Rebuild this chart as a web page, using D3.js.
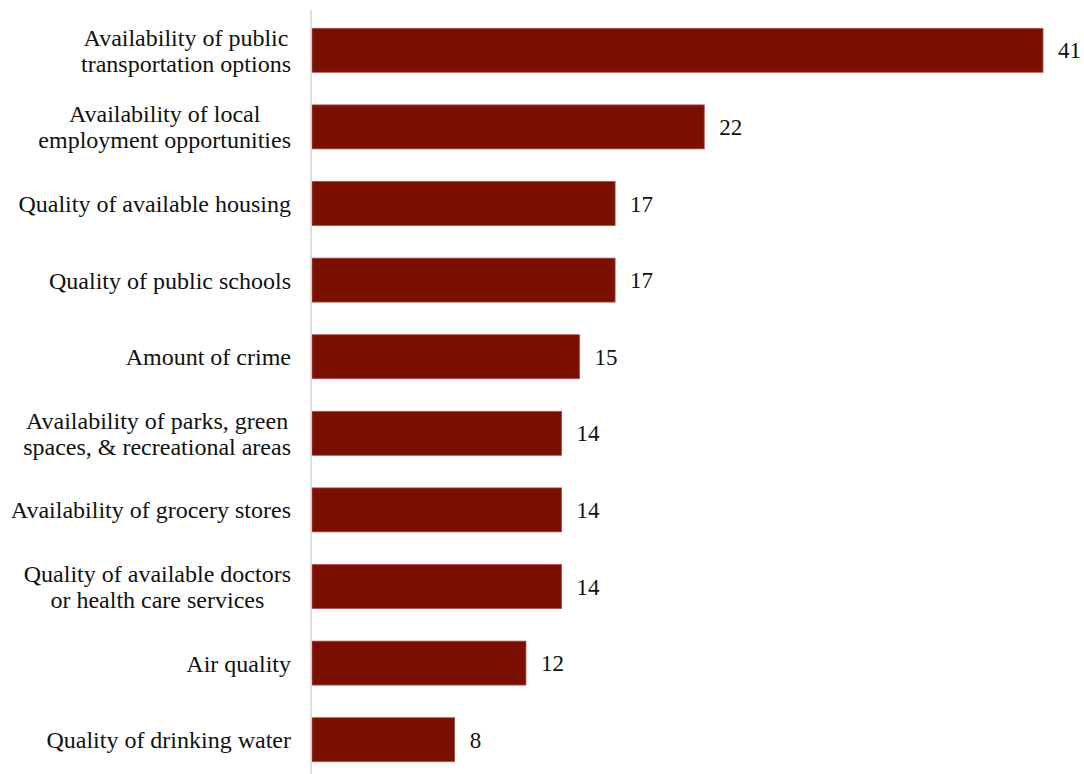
<!DOCTYPE html>
<html lang="en">
<head>
    <meta charset="UTF-8">
    <title>Community factors</title>
    <script src="https://d3js.org/d3.v7.min.js"></script>
    <style>
        body { margin: 0; background: #fff; }
        svg { display: block; }
        text { font-family: "Liberation Serif", "Times New Roman", serif; fill: #111; }
    </style>
</head>
<body>
    <svg width="1084" height="774"></svg>

    <script>
        const categories = [
            ["Availability of public", "transportation options"],
            ["Availability of local", "employment opportunities"],
            ["Quality of available housing"],
            ["Quality of public schools"],
            ["Amount of crime"],
            ["Availability of parks, green", "spaces, & recreational areas"],
            ["Availability of grocery stores"],
            ["Quality of available doctors", "or health care services"],
            ["Air quality"],
            ["Quality of drinking water"]
        ];
        const values = [41, 22, 17, 17, 15, 14, 14, 14, 12, 8];

        const svg = d3.select("svg");
        const labelSize = 24;
        const valueSize = 23;

        const x = d3.scaleLinear().domain([0, 41]).range([312, 1043]);
        const y = d3.scaleBand()
            .domain(d3.range(categories.length))
            .range([12, 778])
            .paddingInner(0.426)
            .paddingOuter(0.213);

        // bars
        svg.selectAll("rect.bar")
            .data(values)
            .enter()
            .append("rect")
            .attr("class", "bar")
            .attr("x", x(0))
            .attr("y", (d, i) => y(i))
            .attr("width", d => x(d) - x(0))
            .attr("height", y.bandwidth())
            .attr("fill", "#7b0f00")
            .attr("stroke", "#a85050")
            .attr("stroke-width", 0.8);

        // axis line
        svg.append("line")
            .attr("x1", 311).attr("x2", 311)
            .attr("y1", 10).attr("y2", 774)
            .attr("stroke", "#d4d4d4")
            .attr("stroke-width", 1.5);

        // value labels
        svg.selectAll("text.val")
            .data(values)
            .enter()
            .append("text")
            .attr("class", "val")
            .attr("x", d => x(d) + 15)
            .attr("y", (d, i) => y(i) + y.bandwidth() / 2)
            .attr("dy", "0.35em")
            .attr("font-size", valueSize)
            .text(d => d);

        // category labels: block right-aligned, lines centered
        const rightEdge = 291;
        const lineH = 26;
        categories.forEach((lines, i) => {
            const g = svg.append("g");
            const cy = y(i) + y.bandwidth() / 2;
            const t = g.selectAll("text")
                .data(lines)
                .enter()
                .append("text")
                .attr("font-size", labelSize)
                .attr("text-anchor", "middle")
                .attr("y", (d, j) => cy + (j - (lines.length - 1) / 2) * lineH)
                .attr("dy", "0.35em")
                .text(d => d);
            let maxW = 0;
            t.each(function() { maxW = Math.max(maxW, this.getComputedTextLength()); });
            t.attr("x", rightEdge - maxW / 2);
        });
    </script>
</body>
</html>
